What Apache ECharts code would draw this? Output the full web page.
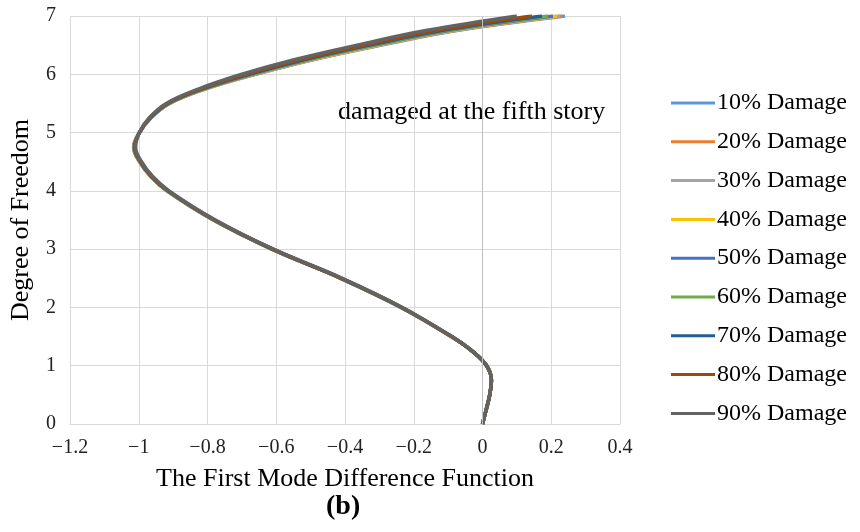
<!DOCTYPE html>
<html>
<head>
<meta charset="utf-8">
<script src="https://cdn.jsdelivr.net/npm/echarts@6/dist/echarts.min.js"></script>
<style>
html,body{margin:0;padding:0;background:#fff;}
#chart{width:860px;height:532px;}
</style>
</head>
<body>
<div id="chart"></div>
<script>
// Degree of freedom (vertical axis) sample positions
var dof = [0, 0.25, 0.5, 0.75, 1, 1.25, 1.5, 2, 2.5, 3, 3.5, 4, 4.25, 4.5, 4.75, 5, 5.25, 5.5, 5.75, 6, 6.25, 6.5, 6.75, 7];

// First mode difference function values, one list per damage level
var dmg10 = [0, 0.011, 0.021, 0.026, 0.012, -0.030, -0.091, -0.237, -0.413, -0.613, -0.783, -0.918, -0.966, -0.998, -1.015, -0.998, -0.965, -0.910, -0.805, -0.660, -0.493, -0.295, -0.075, 0.240];
var dmg20 = [0, 0.011, 0.021, 0.026, 0.012, -0.030, -0.091, -0.237, -0.413, -0.613, -0.783, -0.918, -0.966, -0.998, -1.015, -0.998, -0.965, -0.911, -0.806, -0.662, -0.496, -0.299, -0.080, 0.232];
var dmg30 = [0, 0.011, 0.021, 0.026, 0.012, -0.030, -0.091, -0.237, -0.412, -0.612, -0.782, -0.917, -0.965, -0.997, -1.014, -0.998, -0.966, -0.911, -0.807, -0.664, -0.499, -0.302, -0.085, 0.225];
var dmg40 = [0, 0.011, 0.021, 0.026, 0.012, -0.030, -0.091, -0.236, -0.412, -0.612, -0.782, -0.917, -0.965, -0.997, -1.014, -0.998, -0.966, -0.912, -0.808, -0.667, -0.502, -0.307, -0.090, 0.216];
var dmg50 = [0, 0.011, 0.021, 0.026, 0.012, -0.030, -0.090, -0.236, -0.412, -0.612, -0.782, -0.917, -0.965, -0.997, -1.014, -0.998, -0.966, -0.913, -0.810, -0.670, -0.507, -0.313, -0.098, 0.205];
var dmg60 = [0, 0.011, 0.021, 0.026, 0.012, -0.030, -0.090, -0.236, -0.411, -0.611, -0.781, -0.916, -0.964, -0.996, -1.013, -0.998, -0.967, -0.914, -0.812, -0.674, -0.513, -0.320, -0.107, 0.190];
var dmg70 = [0, 0.011, 0.021, 0.026, 0.012, -0.030, -0.090, -0.235, -0.411, -0.611, -0.780, -0.915, -0.963, -0.995, -1.012, -0.998, -0.967, -0.915, -0.815, -0.679, -0.519, -0.329, -0.118, 0.173];
var dmg80 = [0, 0.011, 0.021, 0.026, 0.012, -0.030, -0.090, -0.234, -0.410, -0.610, -0.779, -0.914, -0.962, -0.994, -1.011, -0.998, -0.968, -0.917, -0.819, -0.687, -0.531, -0.343, -0.137, 0.144];
var dmg90 = [0, 0.011, 0.021, 0.026, 0.012, -0.030, -0.089, -0.233, -0.408, -0.608, -0.777, -0.912, -0.960, -0.992, -1.009, -0.998, -0.970, -0.920, -0.825, -0.700, -0.548, -0.365, -0.165, 0.100];

var seriesNames = ['10% Damage', '20% Damage', '30% Damage', '40% Damage', '50% Damage', '60% Damage', '70% Damage', '80% Damage', '90% Damage'];
var seriesValues = [dmg10, dmg20, dmg30, dmg40, dmg50, dmg60, dmg70, dmg80, dmg90];
var seriesColors = ['#5B9BD5', '#ED7D31', '#A5A5A5', '#FFC000', '#4472C4', '#70AD47', '#255E91', '#9E480E', '#636363'];

var serifFont = "'Liberation Serif', 'Times New Roman', serif";

var series = seriesValues.map(function (vals, i) {
  var s = {
    name: seriesNames[i],
    type: 'line',
    smooth: 0.4,
    symbol: 'none',
    color: seriesColors[i],
    lineStyle: { width: 3.5, color: seriesColors[i] },
    data: vals.map(function (x, j) { return [x, dof[j]]; }),
    animation: false
  };
  if (i === 0) {
    s.markLine = {
      silent: true,
      symbol: 'none',
      label: { show: false },
      lineStyle: { color: '#BFBFBF', width: 1, type: 'solid' },
      data: [{ xAxis: 0 }],
      animation: false
    };
  }
  return s;
});

var chart = echarts.init(document.getElementById('chart'), null, { renderer: 'canvas' });
chart.setOption({
  backgroundColor: '#ffffff',
  animation: false,
  grid: { left: 68, right: 240, top: 16, bottom: 108, containLabel: false },
  xAxis: {
    type: 'value',
    min: -1.2,
    max: 0.4,
    interval: 0.2,
    name: 'The First Mode Difference Function',
    nameLocation: 'middle',
    nameGap: 42,
    nameTextStyle: { fontFamily: serifFont, fontSize: 26, color: '#000' },
    axisLine: { show: true, lineStyle: { color: '#D9D9D9', width: 1 } },
    axisTick: { show: false },
    axisLabel: {
      fontFamily: serifFont, fontSize: 20, color: '#222', margin: 14,
      formatter: function (v) { return String(Math.round(v * 10) / 10).replace('-', '\u2212'); }
    },
    splitLine: { show: true, lineStyle: { color: '#D9D9D9', width: 1 } }
  },
  yAxis: {
    type: 'value',
    min: 0,
    max: 7,
    interval: 1,
    name: 'Degree of Freedom',
    nameLocation: 'middle',
    nameGap: 36,
    nameRotate: 90,
    nameTextStyle: { fontFamily: serifFont, fontSize: 26, color: '#000' },
    axisLine: { show: false },
    axisTick: { show: false },
    axisLabel: { fontFamily: serifFont, fontSize: 20, color: '#222', margin: 14 },
    splitLine: { show: true, lineStyle: { color: '#D9D9D9', width: 1 } }
  },
  legend: {
    orient: 'vertical',
    left: 666,
    top: 86,
    itemWidth: 44,
    itemHeight: 24,
    itemGap: 14.8,
    icon: 'path://M0,10.5L44,10.5L44,13.5L0,13.5Z',
    textStyle: { fontFamily: serifFont, fontSize: 24, color: '#000', lineHeight: 24, padding: [0, 0, 0, -3] },
    data: seriesNames
  },
  graphic: [
    {
      type: 'text',
      left: 338,
      top: 99,
      style: { text: 'damaged at the fifth story', font: "26px 'Liberation Serif', 'Times New Roman', serif", fill: '#000' }
    },
    {
      type: 'text',
      left: 326,
      top: 493,
      style: { text: '(b)', font: "bold 28px 'Liberation Serif', 'Times New Roman', serif", fill: '#000' }
    }
  ],
  series: series
});
</script>
</body>
</html>
